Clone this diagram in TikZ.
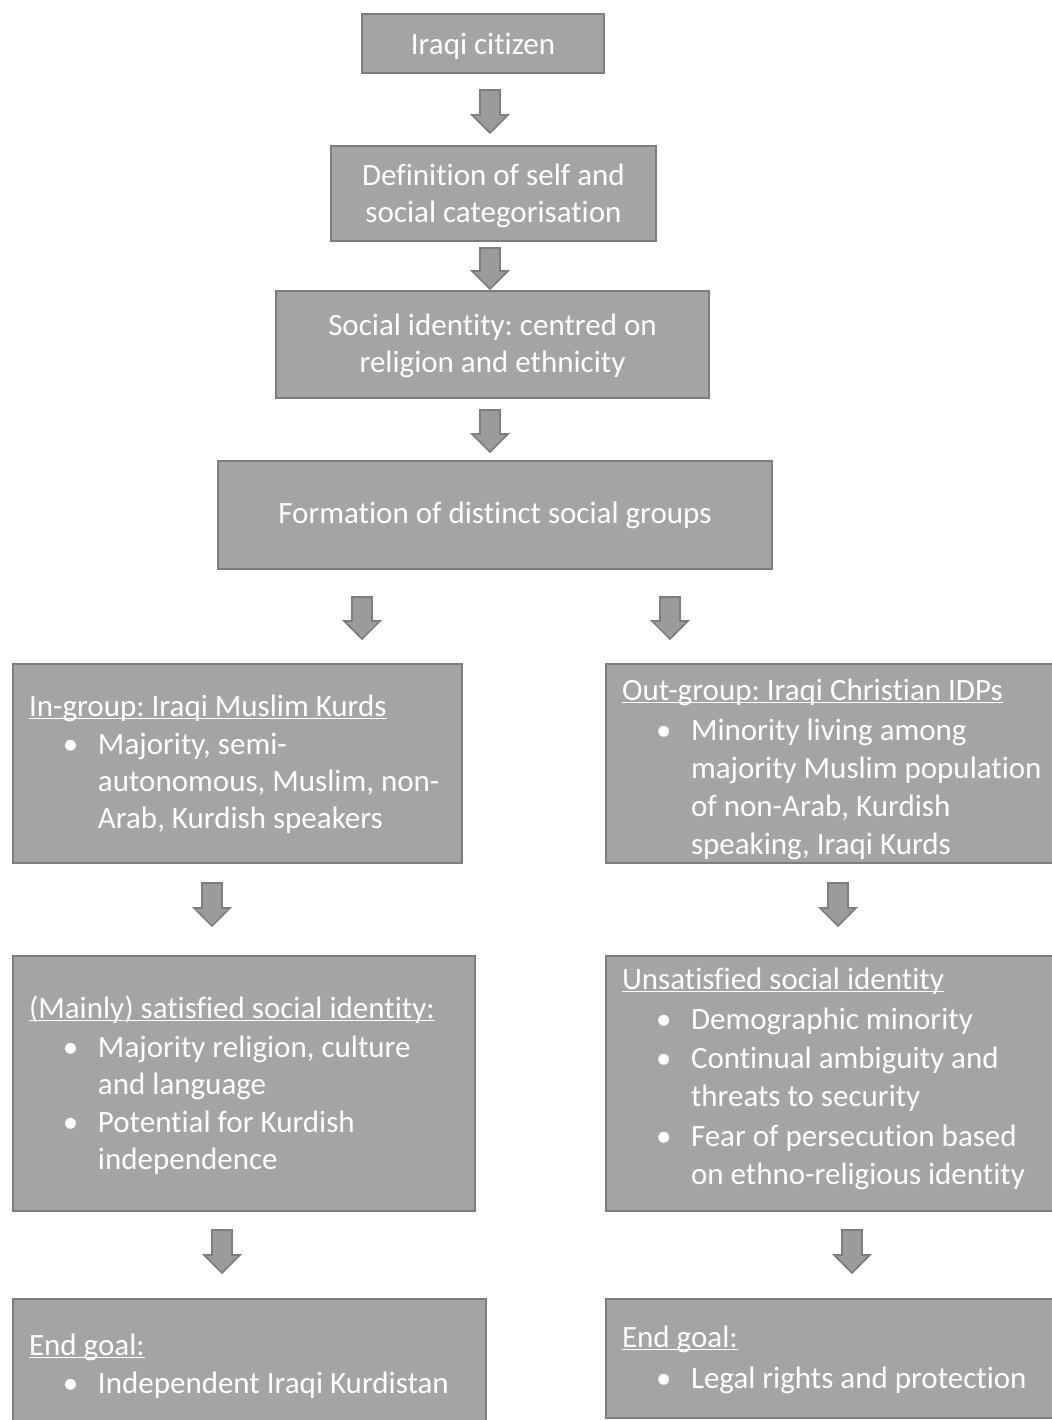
\documentclass[tikz,border=0pt]{standalone}
\usepackage{fontspec}
\setmainfont{Carlito}[Ligatures=NoCommon]
\usetikzlibrary{calc}
\frenchspacing

\definecolor{boxfill}{HTML}{A4A4A4}
\definecolor{boxline}{HTML}{7D7D7D}
\definecolor{arrowfill}{HTML}{9B9B9B}

\newcommand{\ulhead}[1]{\underline{\smash{#1}}}
\newcommand{\bul}[1]{\hspace*{17pt}\makebox[17.5pt][l]{\textbullet}\mbox{#1}}
\newcommand{\ind}[1]{\hspace*{34.5pt}\mbox{#1}}
% [align]{first baseline from top}{width}{height}{text}
\newcommand{\boxtext}[5][\raggedright]{\parbox[t][#4][t]{#3}{\frenchspacing#1\vspace*{\dimexpr#2-0.7\baselineskip\relax}\strut#5}}
\newcommand{\blockarrow}[2]{%
  \filldraw[down arrow] ($(#1)+(-10,0)$) -- ($(#1)+(10,0)$) -- ($(#2)+(10,-18)$) -- ($(#2)+(18,-18)$)
    -- (#2) -- ($(#2)+(-18,-18)$) -- ($(#2)+(-10,-18)$) -- cycle;}

\begin{document}
\begin{tikzpicture}[x=0.5pt,y=-0.5pt,
  box/.style={draw=boxline,fill=boxfill,line width=1pt,text=white,inner sep=0pt,anchor=north west,font=\fontsize{15.5}{18.5}\selectfont},
  list box/.style={box,inner xsep=8pt},
  down arrow/.style={draw=boxline,fill=arrowfill,line width=0.8pt}]

\useasboundingbox (0,0) rectangle (1051,1420);

% top chain
\node[box] (citizen) at (361,13) {\boxtext[\centering]{20pt}{121pt}{29.5pt}{Iraqi citizen}};
\node[box] (selfdef) at (330,145) {\boxtext[\centering]{19.5pt}{162.5pt}{47.5pt}{Definition of self and\\social categorisation}};
\node[box] (socid) at (275,290) {\boxtext[\centering]{22pt}{216.5pt}{53.5pt}{Social identity: centred on\\religion and ethnicity}};
\node[box] (groups) at (217,460) {\boxtext[\centering]{31pt}{277pt}{54pt}{Formation of distinct social groups}};

% in-group / out-group
\node[list box] (ingroup) at (12,663) {\boxtext{26pt}{208.5pt}{99.5pt}
  {\ulhead{In-group: Iraqi Muslim Kurds}\\[0.5pt]\bul{Majority, semi-}\\\ind{autonomous, Muslim, non-}\\\ind{Arab, Kurdish speakers}}};
\node[list box,font=\fontsize{15.5}{19}\selectfont] (outgroup) at (605,663) {\boxtext{18pt}{230pt}{99.5pt}
  {\ulhead{Out-group: Iraqi Christian IDPs}\\[1pt]\bul{Minority living among}\\\ind{majority Muslim population}\\\ind{of non-Arab, Kurdish}\\\ind{speaking, Iraqi Kurds}}};

% identity
\node[list box] (satisfied) at (12,955) {\boxtext{31pt}{215pt}{127.5pt}
  {\ulhead{(Mainly) satisfied social identity:}\\[1pt]\bul{Majority religion, culture}\\\ind{and language}\\[0.5pt]\bul{Potential for Kurdish}\\\ind{independence}}};
\node[list box,font=\fontsize{15.5}{19}\selectfont] (unsatisfied) at (605,955) {\boxtext{16.5pt}{230pt}{127.5pt}
  {\ulhead{Unsatisfied social identity}\\[1pt]\bul{Demographic minority}\\[0.5pt]\bul{Continual ambiguity and}\\\ind{threats to security}\\[1pt]\bul{Fear of persecution based}\\\ind{on ethno-religious identity}}};

% end goals
\node[list box,font=\fontsize{15.5}{19}\selectfont] (goalleft) at (12,1298) {\boxtext{28pt}{220.5pt}{70pt}
  {\ulhead{End goal:}\\\bul{Independent Iraqi Kurdistan}}};
\node[list box,font=\fontsize{15.5}{20.5}\selectfont] (goalright) at (605,1298) {\boxtext{24pt}{230pt}{59.5pt}
  {\ulhead{End goal:}\\\bul{Legal rights and protection}}};

% arrows
\coordinate (arr1s) at (490,90);   \coordinate (arr1e) at (490,133);
\coordinate (arr2s) at (490,248);  \coordinate (arr2e) at (490,289);
\coordinate (arr3s) at (490,410);  \coordinate (arr3e) at (490,452);
\coordinate (arr4s) at (362,597);  \coordinate (arr4e) at (362,639);
\coordinate (arr5s) at (670,597);  \coordinate (arr5e) at (670,639);
\coordinate (arr6s) at (212,883);  \coordinate (arr6e) at (212,926);
\coordinate (arr7s) at (838,883);  \coordinate (arr7e) at (838,926);
\coordinate (arr8s) at (222,1230); \coordinate (arr8e) at (222,1273);
\coordinate (arr9s) at (852,1230); \coordinate (arr9e) at (852,1273);

\blockarrow{arr1s}{arr1e}
\blockarrow{arr2s}{arr2e}
\blockarrow{arr3s}{arr3e}
\blockarrow{arr4s}{arr4e}
\blockarrow{arr5s}{arr5e}
\blockarrow{arr6s}{arr6e}
\blockarrow{arr7s}{arr7e}
\blockarrow{arr8s}{arr8e}
\blockarrow{arr9s}{arr9e}

\end{tikzpicture}
\end{document}
